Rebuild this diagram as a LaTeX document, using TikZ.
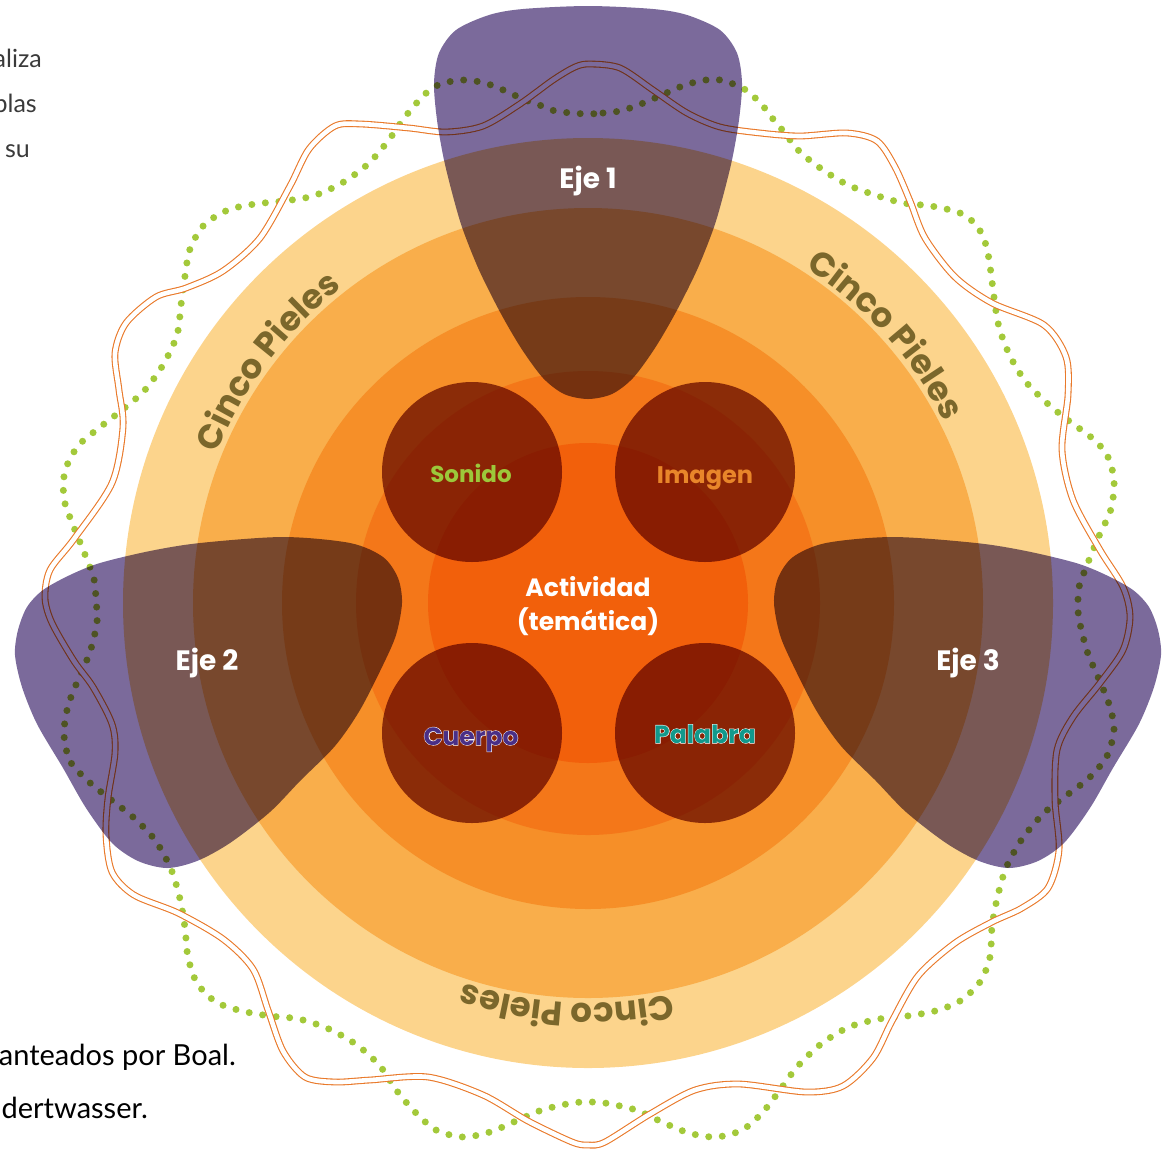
\documentclass[tikz,border=0pt]{standalone}
\usepackage{fontspec}
\usetikzlibrary{decorations.text}
\setmainfont{Poppins}
\newfontfamily\labfont{Poppins}
\newfontfamily\labfontfat{Poppins}[FakeBold=4]
\newfontfamily\bodyfont{Lato}
\definecolor{ringA}{HTML}{FCD48C}
\definecolor{ringB}{HTML}{F9AE4B}
\definecolor{ringC}{HTML}{F68F28}
\definecolor{ringD}{HTML}{F47719}
\definecolor{ringE}{HTML}{F2600B}
\definecolor{darkdisc}{HTML}{914F33}
\definecolor{purp}{HTML}{7B6A9B}
\definecolor{dotgreen}{HTML}{A3C93A}
\definecolor{wave}{HTML}{E9792A}
\definecolor{pieles}{HTML}{7B672B}
\definecolor{sonidoc}{HTML}{9CC83A}
\definecolor{imagenc}{HTML}{E8862A}
\definecolor{cuerpoc}{HTML}{4A2F86}
\definecolor{palabrac}{HTML}{12998C}
\definecolor{fraggray}{HTML}{3A3A3A}
\tikzset{
  lab/.style={inner sep=0pt, anchor=base, font=\labfont\bfseries\fontsize{#1}{#1}\selectfont},
  halo/.style={inner sep=0pt, anchor=base, text=white, font=\labfontfat\bfseries\fontsize{#1}{#1}\selectfont},
  ejelab/.style={lab=28, text=white},
  wavyline/.style={draw=wave, line width=1.1pt, double=white, double distance=4.6pt},
  dotline/.style={draw=dotgreen, line width=7pt, line cap=round, dash pattern=on 0pt off 13.6pt},
  blob/.style={fill=purp},
  frag/.style={inner sep=0pt, anchor=base east, text=fraggray, font=\bodyfont\fontsize{25}{25}\selectfont},
  body/.style={inner sep=0pt, anchor=base east, text=black, font=\bodyfont\fontsize{29}{29}\selectfont},
  pieltext/.style={decorate, decoration={text along path, text align=center,
     text={|\labfont\bfseries\fontsize{34}{34}\selectfont\color{pieles}|Cinco Pieles}}}
}
\begin{document}
\begin{tikzpicture}[x=1pt,y=-1pt]
\useasboundingbox (0,0) rectangle (1166,1149);
% concentric rings
\coordinate (c) at (588,603);
\fill[ringA] (c) circle[radius=465];
\fill[ringB] (c) circle[radius=395];
\fill[ringC] (c) circle[radius=306];
\fill[ringD] (c) circle[radius=232];
\fill[ringE] (c) circle[radius=160];
% four dark discs
\begin{scope}[blend mode=multiply]
\fill[darkdisc] (472,472) circle[radius=90];
\fill[darkdisc] (705,472) circle[radius=90];
\fill[darkdisc] (472,733) circle[radius=90];
\fill[darkdisc] (705,733) circle[radius=90];
\end{scope}
% green dotted wave
\draw[dotline] plot[smooth cycle] coordinates {
(588,114) (603,113) (620,111) (636,106) (648,101) (662,95) (675,89) (688,84) (701,81) (714,79) (727,82) (741,87) (752,95) (763,106) (773,119) (784,132) (800,152) (823,170) (848,185) (875,195) (903,203) (931,206) (960,213) (977,226) (986,245) (990,266) (994,297) (999,327) (1010,356) (1026,382) (1048,404) (1069,421) (1092,438) (1107,455) (1114,480) (1111,509) (1099,536) (1087,565) (1079,587) (1078,603) (1079,619) (1087,651) (1098,677) (1109,704) (1114,729) (1107,756) (1089,778) (1067,795) (1044,813) (1022,839) (1006,868) (997,899) (992,927) (990,957) (980,982) (960,1001) (935,1011) (907,1016) (879,1019) (849,1027) (821,1044) (797,1067) (780,1090) (762,1113) (742,1130) (716,1137) (689,1133) (662,1122) (636,1110) (605,1103) (589,1102) (572,1103) (542,1110) (516,1121) (490,1132) (463,1137) (436,1130) (415,1112) (397,1091) (380,1066) (357,1045) (329,1029) (299,1019) (270,1016) (242,1011) (216,1002) (197,983) (188,957) (185,928) (180,899) (171,869) (155,840) (133,817) (110,799) (88,781) (70,761) (64,734) (68,706) (78,680) (90,652) (97,622) (96,600) (94,579) (84,552) (73,525) (64,499) (65,471) (78,446) (99,428) (122,410) (144,391) (163,365) (177,335) (181,305) (185,276) (190,249) (204,225) (228,210) (255,204) (284,201) (313,196) (342,183) (368,164) (388,141) (405,117) (423,96) (436,86) (448,82) (462,80) (475,81) (488,84) (501,89) (514,95) (528,101) (542,106) (555,111) (572,113)};
% orange double wave
\draw[wavyline] plot[smooth cycle] coordinates {
(590,64) (620,68) (653,90) (687,113) (720,127) (760,133) (800,136) (847,133) (877,141) (895,167) (910,201) (925,238) (955,277) (992,303) (1044,325) (1066,357) (1068,395) (1062,450) (1073,500) (1100,550) (1123,587) (1130,617) (1123,650) (1100,683) (1073,717) (1057,750) (1055,800) (1059,850) (1048,888) (1022,908) (992,922) (955,943) (918,976) (892,1021) (873,1058) (843,1086) (806,1092) (739,1084) (695,1090) (650,1114) (605,1142) (588,1145) (572,1142) (528,1121) (483,1095) (428,1077) (370,1080) (335,1082) (305,1077) (283,1051) (268,1010) (253,969) (223,939) (178,913) (134,895) (112,872) (106,835) (108,798) (115,753) (112,724) (93,687) (74,661) (52,623) (45,598) (50,570) (74,539) (112,483) (123,427) (119,390) (115,353) (126,323) (156,297) (186,288) (223,271) (260,238) (290,186) (309,149) (335,126) (361,124) (409,128) (446,132) (483,126) (520,104) (553,80) (575,67)};
% purple axes
\begin{scope}[blend mode=multiply]
\fill[blob] plot[smooth cycle] coordinates {
(588,399) (612,394) (633,378) (655,348) (676,312) (697,270) (713,230) (722,200) (732,160) (739,120) (742,83) (737,53) (720,30) (687,15) (653,9) (588,6) (523,9) (489,15) (456,30) (439,53) (434,83) (437,120) (444,160) (454,200) (463,230) (479,270) (500,312) (521,348) (543,378) (564,394)};
\fill[blob] plot[smooth cycle] coordinates {
(43,590) (70,575) (100,563) (150,551) (200,543) (283,537) (350,543) (383,557) (398,578) (402,603) (396,635) (383,665) (360,710) (335,746) (300,781) (270,812) (230,843) (197,861) (167,868) (138,861) (112,843) (86,808) (63,768) (37,724) (22,687) (15,655) (18,630) (27,607)};
\fill[blob] plot[smooth cycle] coordinates {
(1133,590) (1106,575) (1076,563) (1026,551) (976,543) (893,537) (826,543) (793,557) (778,578) (774,603) (780,635) (793,665) (816,710) (841,746) (876,781) (906,812) (946,843) (979,861) (1009,868) (1038,861) (1064,843) (1090,808) (1113,768) (1139,724) (1154,687) (1161,655) (1158,630) (1149,607)};
\end{scope}
% ring labels
\path[pieltext] (c) ++(183:400pt) arc[start angle=183, end angle=103, radius=400pt];
\path[pieltext] (c) ++(82:400pt) arc[start angle=82, end angle=2, radius=400pt];
\path[pieltext] (c) ++(-53:400pt) arc[start angle=-53, end angle=-133, radius=400pt];
% axis labels
\node[ejelab] (eje1) at (588,188) {Eje 1};
\node[ejelab] (eje2) at (207,670) {Eje 2};
\node[ejelab] (eje3) at (968,670) {Eje 3};
% disc labels
\node[lab=23, text=sonidoc] (sonido) at (471,482) {Sonido};
\node[lab=24, text=imagenc] (imagen) at (705,483) {Imagen};
\node[halo=25] (cuerpoh) at (471,745) {Cuerpo};
\node[lab=25, text=cuerpoc] (cuerpo) at (471,745) {Cuerpo};
\node[halo=25] (palabrah) at (705,743) {Palabra};
\node[lab=25, text=palabrac] (palabra) at (705,743) {Palabra};
\node[lab=25, text=white] (act) at (588,596) {Actividad};
\node[lab=25, text=white] (tem) at (588,630) {(temática)};
% page text fragments
\node[frag] (f1) at (42,67) {aliza};
\node[frag] (f2) at (37,112) {plas};
\node[frag] (f3) at (30,157) {su};
\node[body] (b1) at (236,1065) {anteados por Boal.};
\node[body] (b2) at (148,1118) {dertwasser.};
\end{tikzpicture}
\end{document}
